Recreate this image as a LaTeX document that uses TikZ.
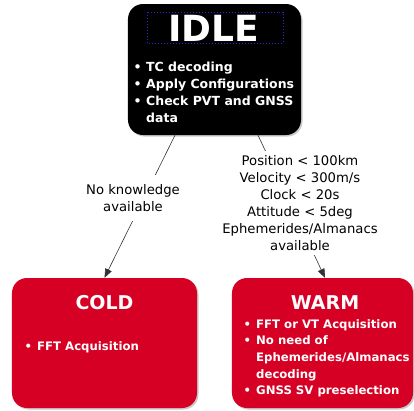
\documentclass[tikz,border=0pt]{standalone}
\usepackage{fontspec}
\setmainfont{DejaVu Sans}
\usetikzlibrary{arrows.meta,shadows}

\definecolor{statered}{RGB}{214,0,36}
\definecolor{selblue}{RGB}{40,40,215}

\newcommand{\bitem}{\makebox[12.5bp][l]{\textbullet}}

\tikzset{
  statebox/.style={draw=none, rounded corners=15bp, inner sep=0pt,
    drop shadow={shadow xshift=1.5bp, shadow yshift=-1.5bp, fill=black!35, opacity=0.6}},
  titletext/.style={text=white, font=\bfseries, anchor=base, inner sep=0pt},
  listtext/.style={text=white, anchor=base west, inner sep=0pt, align=left,
    font=\fontsize{11.7bp}{17bp}\selectfont\bfseries},
  condtext/.style={fill=white, align=center, text=black,
    font=\fontsize{13.2bp}{17bp}\selectfont},
  transition/.style={draw=black!80, line width=0.6bp,
    -{Triangle[length=9bp,width=7bp]}},
}

\begin{document}
\begin{tikzpicture}[x=1bp,y=-1bp]
  \useasboundingbox (0,0) rectangle (414,411);

  % states
  \node[statebox, fill=black, minimum width=173bp, minimum height=131bp]
    (idle) at (214.5,69.5) {};
  \node[statebox, fill=statered, minimum width=185bp, minimum height=130bp]
    (cold) at (104.5,343) {};
  \node[statebox, fill=statered, minimum width=181bp, minimum height=130bp]
    (warm) at (322.5,343) {};

  % titles
  \node[titletext, font=\fontsize{36bp}{40bp}\selectfont\bfseries]
    (idletitle) at (213.5,41.7) {IDLE};
  \draw[selblue, dotted, line width=1bp] (147,12) rectangle (283,43);
  \node[titletext, font=\fontsize{19bp}{22bp}\selectfont\bfseries]
    (coldtitle) at (104.5,309.3) {COLD};
  \node[titletext, font=\fontsize{19bp}{22bp}\selectfont\bfseries]
    (warmtitle) at (325,309.3) {WARM};

  % activity lists
  \node[listtext, font=\fontsize{12.5bp}{17bp}\selectfont\bfseries]
    (idlelist) at (133.5,71) {%
    \begin{tabular}[t]{@{}l@{}l@{}}
      \bitem & TC decoding\\
      \bitem & Apply Configurations\\
      \bitem & Check PVT and GNSS\\
             & data
    \end{tabular}};
  \node[listtext] (coldlist) at (24.5,350.5) {%
    \begin{tabular}[t]{@{}l@{}l@{}}
      \bitem & FFT Acquisition
    \end{tabular}};
  \node[listtext, font=\fontsize{11.7bp}{16.7bp}\selectfont\bfseries]
    (warmlist) at (243.5,328) {%
    \begin{tabular}[t]{@{}l@{}l@{}}
      \bitem & FFT or VT Acquisition\\
      \bitem & No need of\\
             & Ephemerides/Almanacs\\
             & decoding\\
      \bitem & GNSS SV preselection
    \end{tabular}};

  % transitions
  \draw[transition] ([xshift=-39.5bp]idle.south) -- (cold.north);
  \draw[transition] ([xshift=43.5bp]idle.south) -- ([xshift=2.5bp]warm.north);

  % transition conditions
  \node[condtext, inner xsep=3bp, inner ysep=9bp] (nocond) at (133,198)
    {No knowledge\\available};
  \node[condtext, inner xsep=3bp, inner ysep=4bp] (warmcond) at (300,203)
    {Position < 100km\\Velocity < 300m/s\\Clock < 20s\\Attitude < 5deg\\
     Ephemerides/Almanacs\\available};
\end{tikzpicture}
\end{document}
